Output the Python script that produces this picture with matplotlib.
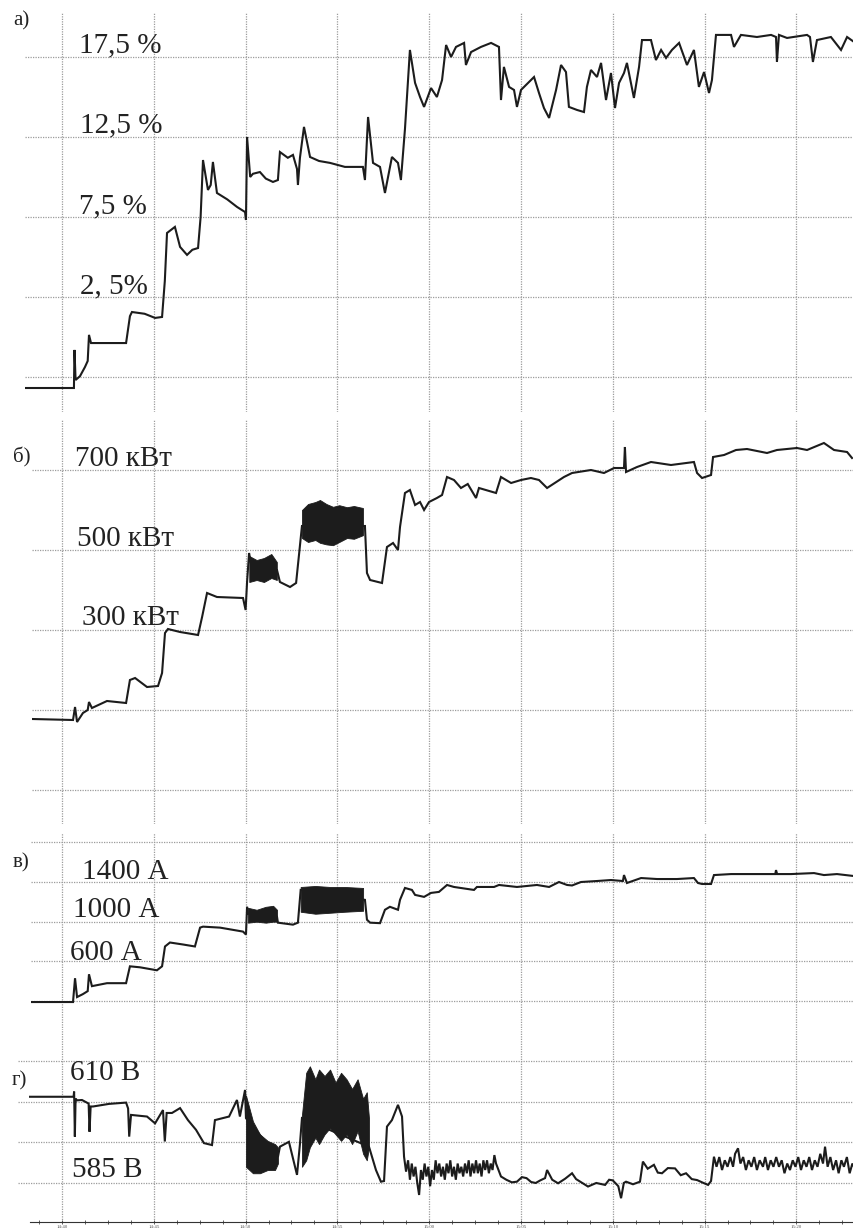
import matplotlib.pyplot as plt
from matplotlib.ticker import MultipleLocator

plt.rcParams['font.family'] = ['Liberation Serif', 'DejaVu Serif']

# time in minutes after 14:40
time_ticks = [0, 5, 10, 15, 20, 25, 30, 35, 40]
time_labels = ['14:40', '14:45', '14:50', '14:55', '15:00',
               '15:05', '15:10', '15:15', '15:20']

# a) load, %
a_pts = [(-2.07, -3.19), (0.65, -3.19), (0.68, -0.81), (0.74, -2.69), (0.98, -2.45),
         (1.25, -1.88), (1.40, -1.5), (1.47, 0.13), (1.58, -0.38), (3.49, -0.38),
         (3.70, 1.3), (3.81, 1.56), (4.5, 1.45), (5.07, 1.19), (5.45, 1.25),
         (5.60, 3.5), (5.72, 6.5), (6.15, 6.88), (6.43, 5.63), (6.81, 5.13),
         (7.10, 5.45), (7.41, 5.56), (7.55, 7.5), (7.68, 11.06), (7.95, 9.19),
         (8.10, 9.5), (8.22, 10.94), (8.44, 9.0), (9.0, 8.6), (9.53, 8.13),
         (9.97, 7.81), (10.02, 7.31), (10.08, 12.5), (10.25, 10.0), (10.40, 10.2),
         (10.78, 10.31), (11.1, 9.9), (11.49, 9.69), (11.76, 9.81), (11.87, 11.56),
         (12.3, 11.2), (12.58, 11.38), (12.80, 10.5), (12.85, 9.5), (12.96, 11.2),
         (13.18, 13.13), (13.51, 11.25), (14.0, 11.0), (14.60, 10.88), (15.41, 10.63),
         (16.39, 10.63), (16.50, 9.81), (16.67, 13.75), (16.94, 10.88), (17.32, 10.63),
         (17.59, 9.0), (17.97, 11.25), (18.30, 10.88), (18.46, 9.81), (18.68, 13.0),
         (18.95, 17.94), (19.23, 15.88), (19.50, 15.0), (19.72, 14.38), (20.10, 15.56),
         (20.42, 15.0), (20.70, 16.06), (20.92, 18.25), (21.19, 17.5), (21.46, 18.13),
         (21.90, 18.38), (22.00, 17.0), (22.28, 17.81), (22.82, 18.13), (23.37, 18.38),
         (23.80, 18.13), (23.91, 14.81), (24.07, 16.88), (24.35, 15.63), (24.62, 15.44),
         (24.78, 14.38), (25.00, 15.44), (25.71, 16.25), (25.98, 15.25), (26.25, 14.31),
         (26.53, 13.69), (26.91, 15.44), (27.18, 17.0), (27.45, 16.56), (27.61, 14.38),
         (28.05, 14.19), (28.43, 14.06), (28.59, 15.63), (28.81, 16.69), (29.14, 16.25),
         (29.36, 17.13), (29.63, 14.81), (29.90, 16.5), (30.12, 14.31), (30.34, 15.88),
         (30.61, 16.5), (30.77, 17.13), (31.15, 14.94), (31.43, 16.88), (31.59, 18.56),
         (32.08, 18.56), (32.35, 17.31), (32.63, 17.94), (32.90, 17.44), (33.22, 17.94),
         (33.61, 18.38), (34.04, 17.0), (34.42, 17.94), (34.69, 15.63), (34.97, 16.56),
         (35.24, 15.25), (35.40, 16.06), (35.62, 18.88), (36.44, 18.88), (36.60, 18.13),
         (36.98, 18.88), (37.85, 18.75), (38.62, 18.88), (38.89, 18.75), (38.94, 17.19),
         (39.05, 18.88), (39.49, 18.69), (40.58, 18.88), (40.74, 18.75), (40.90, 17.19),
         (41.12, 18.56), (41.88, 18.75), (42.43, 17.94), (42.76, 18.75), (43.14, 18.44)]
a_ticks = [-2.5, 2.5, 7.5, 12.5, 17.5]

# б) power, kW
b_pts = [(-1.63, 77.5), (0.60, 75), (0.71, 107.5), (0.82, 70), (1.14, 92.5),
         (1.40, 100), (1.47, 120), (1.63, 105), (2.45, 122.5), (3.49, 117.5),
         (3.70, 175), (3.98, 180), (4.63, 157.5), (5.23, 160), (5.45, 192.5),
         (5.61, 292.5), (5.77, 302.5), (6.43, 295), (7.41, 287.5), (7.63, 332.5),
         (7.90, 392.5), (8.44, 382.5), (9.86, 380), (10.0, 350), (10.08, 420),
         (10.19, 492.5), (10.35, 450), (11.71, 450), (11.87, 420), (12.42, 407.5),
         (12.75, 417.5), (13.07, 560), (16.50, 560), (16.61, 442.5), (16.78, 425),
         (17.43, 417.5), (17.70, 507.5), (18.03, 517.5), (18.30, 500), (18.41, 557.5),
         (18.68, 642.5), (18.95, 650), (19.23, 612.5), (19.50, 620), (19.72, 600),
         (19.99, 620), (20.42, 630), (20.70, 637.5), (20.97, 682.5), (21.35, 675),
         (21.73, 655), (22.1, 665), (22.55, 630), (22.71, 655), (23.64, 642.5),
         (23.91, 682.5), (24.46, 667.5), (25.00, 675), (25.54, 680), (25.98, 675),
         (26.42, 655), (27.34, 682.5), (27.78, 692.5), (28.81, 700), (29.52, 692.5),
         (30.07, 705), (30.61, 705), (30.66, 757.5), (30.72, 695), (31.32, 707.5),
         (32.08, 720), (33.17, 712.5), (34.42, 720), (34.59, 692.5), (34.86, 680),
         (35.35, 687.5), (35.46, 732.5), (36.06, 737.5), (36.71, 750), (37.31, 752.5),
         (38.40, 742.5), (38.94, 750), (40.03, 755), (40.58, 750), (41.50, 767.5),
         (42.05, 750), (42.76, 745), (43.03, 730)]
b_band1_t = [10.2, 10.6, 11.0, 11.4, 11.7]
b_band1_lo = [420, 425, 420, 430, 425]
b_band1_hi = [485, 475, 480, 490, 470]
b_band2_t = [13.07, 13.4, 13.8, 14.05, 14.4, 14.76, 15.1, 15.52, 15.9, 16.39]
b_band2_lo = [530, 520, 525, 518, 514, 512, 520, 530, 528, 537]
b_band2_hi = [600, 615, 620, 625, 615, 608, 612, 607, 610, 605]
b_ticks = [-100, 100, 300, 500, 700]

# в) current, A
c_pts = [(-1.69, 190), (0.60, 190), (0.71, 430), (0.82, 240), (1.14, 270),
         (1.40, 300), (1.47, 470), (1.63, 350), (2.45, 380), (3.49, 380),
         (3.70, 550), (4.25, 540), (5.17, 510), (5.45, 550), (5.61, 750),
         (5.88, 790), (6.59, 770), (7.24, 750), (7.52, 940), (7.68, 950),
         (8.61, 940), (9.86, 900), (10.02, 870), (10.08, 1150), (10.13, 1080),
         (11.71, 1050), (11.76, 990), (12.58, 970), (12.85, 990), (13.0, 1320),
         (16.50, 1220), (16.61, 1020), (16.78, 990), (17.32, 985), (17.59, 1120),
         (17.86, 1150), (18.30, 1120), (18.41, 1220), (18.68, 1340), (19.06, 1320),
         (19.23, 1270), (19.72, 1250), (20.10, 1290), (20.53, 1300), (20.97, 1370),
         (21.35, 1350), (22.44, 1320), (22.60, 1350), (23.53, 1350), (23.80, 1370),
         (24.78, 1350), (25.87, 1370), (26.53, 1350), (27.07, 1400), (27.51, 1370),
         (27.78, 1365), (28.27, 1400), (29.14, 1410), (29.90, 1420), (30.55, 1410),
         (30.61, 1470), (30.77, 1390), (31.54, 1440), (32.41, 1430), (33.50, 1430),
         (34.42, 1440), (34.64, 1390), (34.86, 1380), (35.35, 1380), (35.51, 1470),
         (36.44, 1480), (37.85, 1480), (38.85, 1480), (38.89, 1520), (38.95, 1480),
         (39.71, 1480), (40.96, 1490), (41.50, 1470), (42.21, 1480), (43.14, 1460)]
c_band1_t = [10.13, 10.6, 11.1, 11.5, 11.71]
c_band1_lo = [990, 1000, 990, 1000, 1000]
c_band1_hi = [1140, 1120, 1150, 1160, 1120]
c_band2_t = [13.0, 13.8, 14.6, 15.4, 16.4]
c_band2_lo = [1100, 1080, 1090, 1100, 1110]
c_band2_hi = [1350, 1360, 1350, 1350, 1340]
c_ticks = [200, 600, 1000, 1400, 1800]

# г) voltage, V
d_pts = [(-1.74, 611.6), (0.63, 611.6), (0.66, 613.2), (0.70, 599.3), (0.74, 611),
         (0.82, 610.5), (1.09, 610.6), (1.45, 609.5), (1.50, 600.8), (1.56, 608.6),
         (1.69, 608.6), (2.56, 609.4), (3.49, 609.8), (3.60, 608), (3.66, 599.3),
         (3.76, 606), (4.63, 605.5), (5.07, 603.4), (5.50, 607.5), (5.60, 597.8),
         (5.70, 606.6), (5.99, 606.6), (6.43, 608.1), (6.86, 604.4), (7.30, 601.4),
         (7.73, 597.3), (8.17, 596.7), (8.33, 604.4), (9.10, 605.5), (9.53, 610.6),
         (9.69, 605.5), (9.97, 613.7), (10.02, 605), (11.76, 593), (11.87, 596.2),
         (12.36, 597.7), (12.80, 587.5), (12.96, 597), (13.07, 605), (16.72, 596.2),
         (17.10, 589), (17.37, 585.4), (17.54, 585.6), (17.70, 602.4), (17.97, 604.4),
         (18.30, 609.1), (18.52, 605.5), (18.63, 593.1), (18.74, 588.5), (18.85, 592),
         (18.95, 586), (19.05, 591), (19.15, 587), (19.25, 590), (19.35, 585),
         (19.45, 581.3), (19.55, 589), (19.65, 586), (19.75, 591), (19.85, 587),
         (19.95, 590), (20.05, 584), (20.15, 589), (20.25, 586), (20.35, 592),
         (20.45, 588), (20.55, 591), (20.65, 587), (20.75, 590), (20.85, 586),
         (20.95, 591), (21.05, 588), (21.15, 592), (21.25, 587), (21.35, 590),
         (21.45, 586), (21.55, 591), (21.65, 588), (21.75, 590), (21.85, 587),
         (21.95, 591), (22.05, 588), (22.15, 592), (22.25, 587), (22.35, 591),
         (22.45, 588), (22.55, 592), (22.65, 588), (22.75, 591), (22.85, 587),
         (22.95, 592), (23.05, 589), (23.15, 592), (23.25, 588), (23.35, 591),
         (23.45, 589), (23.55, 593.6), (23.64, 591), (23.91, 587), (24.2, 586),
         (24.5, 585.2), (24.78, 585.4), (25.05, 586.8), (25.3, 586.5), (25.55, 585.3),
         (25.8, 585), (26.05, 585.8), (26.31, 586.5), (26.42, 589), (26.7, 586),
         (27.02, 584.9), (27.4, 586.3), (27.78, 588), (28.0, 586.2), (28.2, 585.5),
         (28.45, 584.6), (28.65, 583.9), (29.1, 585), (29.58, 584.4), (29.8, 586),
         (30.0, 585.8), (30.3, 584), (30.45, 580.3), (30.6, 585), (30.72, 585.4),
         (31.1, 584.6), (31.48, 585.4), (31.64, 591.6), (31.9, 589.4), (32.24, 590.6),
         (32.45, 588.2), (32.68, 588), (33.0, 589.6), (33.39, 589.5), (33.7, 587.4),
         (33.99, 588), (34.3, 586.2), (34.59, 585.9), (34.9, 585.1), (35.19, 584.4),
         (35.35, 585.6), (35.51, 593.1), (35.65, 590), (35.8, 593), (35.95, 589),
         (36.1, 592), (36.25, 590), (36.4, 593), (36.55, 590), (36.66, 594),
         (36.82, 595.7), (36.95, 591), (37.1, 593), (37.25, 589), (37.4, 592),
         (37.55, 590), (37.7, 593), (37.85, 589), (38.0, 592), (38.18, 590),
         (38.3, 593), (38.45, 589), (38.6, 592), (38.75, 590), (38.9, 593),
         (39.05, 590), (39.2, 592), (39.35, 588), (39.5, 591), (39.65, 589),
         (39.8, 592), (39.95, 590), (40.1, 593), (40.25, 589), (40.4, 592),
         (40.55, 590), (40.7, 593), (40.85, 589), (41.0, 592), (41.15, 590),
         (41.3, 594), (41.45, 591), (41.56, 596.2), (41.7, 590), (41.85, 593),
         (42.0, 589), (42.16, 592), (42.3, 588), (42.45, 592), (42.59, 590),
         (42.75, 593), (42.9, 588), (43.05, 591), (43.14, 590)]
d_band1_t = [10.02, 10.4, 10.78, 11.2, 11.6, 11.76]
d_band1_lo = [590, 588, 588, 589, 589, 591]
d_band1_hi = [612, 604, 600, 598, 597, 596]
d_band2_t = [13.07, 13.3, 13.5, 13.8, 14.0, 14.3, 14.6, 14.9, 15.2, 15.5,
             15.8, 16.1, 16.4, 16.6, 16.72]
d_band2_lo = [590, 592, 596, 599, 597, 600, 602, 600, 598, 600,
              597, 601, 594, 592, 596]
d_band2_hi = [606, 619, 621, 617, 620, 618, 620, 616, 619, 617,
              614, 617, 611, 613, 605]
d_ticks = [585, 597.5, 610, 622.5]

W, H = 854, 1229
X0, PXMIN = 62.0, 18.36   # pixel of 14:40 and pixels per minute
LINE = '#1c1c1c'
GRID = '#9c9c9c'

fig = plt.figure(figsize=(W / 100, H / 100), dpi=100)


def panel(left, top, bottom, ylim, yticks):
    ax = fig.add_axes([left / W, 1 - bottom / H, (W - left) / W, (bottom - top) / H])
    ax.set_xlim((left - X0) / PXMIN, (W - X0) / PXMIN)
    ax.set_ylim(*ylim)
    ax.set_xticks(time_ticks)
    ax.set_yticks(yticks)
    ax.grid(True, color=GRID, ls=(0, (1, 1)), lw=0.9)
    ax.tick_params(length=0, labelbottom=False, labelleft=False)
    for s in ax.spines.values():
        s.set_visible(False)
    ax.set_axisbelow(True)
    return ax


def trace(ax, pts, bands=()):
    t = [p[0] for p in pts]
    v = [p[1] for p in pts]
    for bt, lo, hi in bands:
        ax.fill_between(bt, lo, hi, color=LINE, lw=0.6, edgecolor=LINE)
    ax.plot(t, v, color=LINE, lw=1.5, solid_joinstyle='miter')


ax_a = panel(25, 13, 412, (-4.69, 20.25), a_ticks)
trace(ax_a, a_pts)

ax_b = panel(32, 419, 824, (-185, 827.5), b_ticks)
trace(ax_b, b_pts, [(b_band1_t, b_band1_lo, b_band1_hi),
                    (b_band2_t, b_band2_lo, b_band2_hi)])

ax_c = panel(31, 833, 1030, (-92, 1894), c_ticks)
trace(ax_c, c_pts, [(c_band1_t, c_band1_lo, c_band1_hi),
                    (c_band2_t, c_band2_lo, c_band2_hi)])

ax_d = panel(18, 1030, 1222, (572.96, 632.2), d_ticks)
trace(ax_d, d_pts, [(d_band1_t, d_band1_lo, d_band1_hi),
                    (d_band2_t, d_band2_lo, d_band2_hi)])
ax_d.spines['bottom'].set_visible(True)
ax_d.spines['bottom'].set_color('#333333')
ax_d.spines['bottom'].set_bounds((30 - X0) / PXMIN, (W - X0) / PXMIN)
ax_d.set_xticklabels(time_labels)
ax_d.xaxis.set_minor_locator(MultipleLocator(1.25))
ax_d.tick_params(axis='x', which='both', direction='inout', length=3, width=0.6,
                 color='#444444', labelbottom=True, labelsize=3.5,
                 labelcolor='#555555', pad=1)

# labels, placed in pixel coordinates of the original figure
labels = [('а)', 13, 25, 15), ('17,5 %', 79, 52, 21), ('12,5 %', 80, 132, 21),
          ('7,5 %', 79, 213, 21), ('2, 5%', 80, 293, 21),
          ('б)', 13, 462, 15), ('700 кВт', 75, 466, 21), ('500 кВт', 77, 546, 21),
          ('300 кВт', 82, 625, 21),
          ('в)', 13, 867, 15), ('1400 А', 82, 879, 21), ('1000 А', 73, 917, 21),
          ('600 А', 70, 960, 21),
          ('г)', 12, 1085, 15), ('610 В', 70, 1080, 21), ('585 В', 72, 1177, 21)]
for txt, x, y, fs in labels:
    fig.text(x / W, 1 - y / H, txt, fontsize=fs, color='#222222',
             ha='left', va='baseline')

fig.savefig('out.png', dpi=100)
